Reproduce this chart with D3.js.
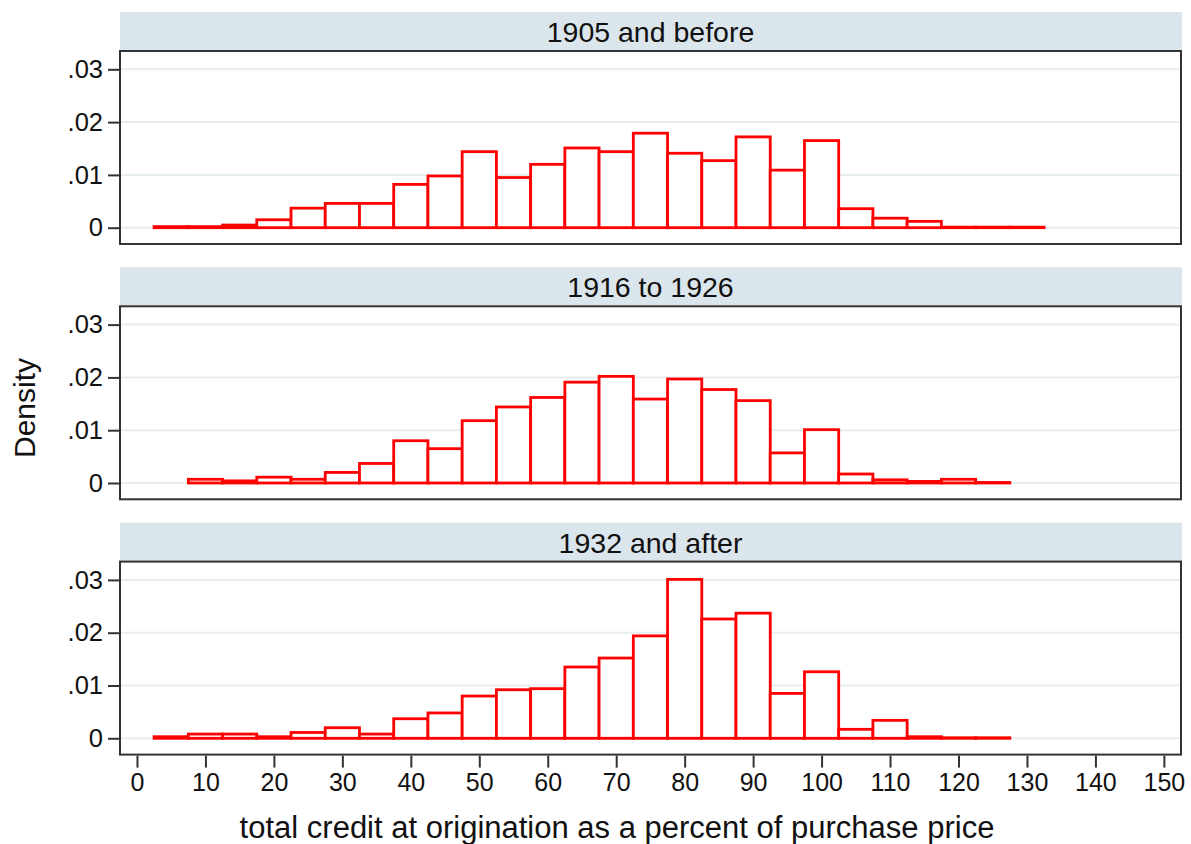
<!DOCTYPE html>
<html>
<head>
<meta charset="utf-8">
<script src="https://cdn.jsdelivr.net/npm/d3@7"></script>
<style>
  body { margin: 0; background: #fff; }
  svg { font-family: "Liberation Sans", Arial, sans-serif; }
</style>
</head>
<body>
<svg id="chart"></svg>
<script>
// bin centres (width 5) and densities per period
const binWidth = 5;
const centers1905 = [5, 10, 15, 20, 25, 30, 35, 40, 45, 50, 55, 60, 65, 70, 75, 80, 85, 90, 95, 100, 105, 110, 115, 120, 125, 130];
const density1905 = [0.0002, 0.0002, 0.0005, 0.0015, 0.0037, 0.0046, 0.0046, 0.0082, 0.0098, 0.0144, 0.0095, 0.0120, 0.0151, 0.0144, 0.0179, 0.0141, 0.0127, 0.0172, 0.0109, 0.0165, 0.0036, 0.0018, 0.0012, 0.0001, 0.0001, 0.0001];

const centers1916 = [10, 15, 20, 25, 30, 35, 40, 45, 50, 55, 60, 65, 70, 75, 80, 85, 90, 95, 100, 105, 110, 115, 120, 125];
const density1916 = [0.0007, 0.0004, 0.0011, 0.0007, 0.0020, 0.0037, 0.0080, 0.0065, 0.0118, 0.0144, 0.0162, 0.0191, 0.0202, 0.0159, 0.0197, 0.0177, 0.0156, 0.0057, 0.0101, 0.0017, 0.0006, 0.0003, 0.0007, 0.0001];

const centers1932 = [5, 10, 15, 20, 25, 30, 35, 40, 45, 50, 55, 60, 65, 70, 75, 80, 85, 90, 95, 100, 105, 110, 115, 120, 125];
const density1932 = [0.0003, 0.0008, 0.0008, 0.0003, 0.0011, 0.0020, 0.0008, 0.0037, 0.0048, 0.0080, 0.0092, 0.0094, 0.0135, 0.0152, 0.0194, 0.0301, 0.0226, 0.0237, 0.0085, 0.0126, 0.0017, 0.0034, 0.0003, 0.0001, 0.0001];

const panelTitles = ["1905 and before", "1916 to 1926", "1932 and after"];
const yTicks = [0, 0.01, 0.02, 0.03];
const yTickLabels = ["0", ".01", ".02", ".03"];
const xTicks = d3.range(0, 151, 10);
const xTitle = "total credit at origination as a percent of purchase price";
const yTitle = "Density";

const panels = [
  { title: panelTitles[0], centers: centers1905, values: density1905 },
  { title: panelTitles[1], centers: centers1916, values: density1916 },
  { title: panelTitles[2], centers: centers1932, values: density1932 }
];

const W = 1191, H = 844;
const plotLeft = 120, plotRight = 1181;
const headerH = 39, boxH = 193, panelStep = 255.3, firstTop = 12;

const svg = d3.select("#chart").attr("width", W).attr("height", H);

const x = d3.scaleLinear()
  .domain([-2.48, 152.5])
  .range([plotLeft, plotRight]);

const y = d3.scaleLinear()
  .domain([-0.00309, 0.03347])
  .range([boxH, 0]);

panels.forEach((p, i) => {
  const top = firstTop + i * panelStep;
  const g = svg.append("g").attr("transform", `translate(0, ${top})`);

  // strip header
  g.append("rect")
    .attr("x", plotLeft).attr("y", 0)
    .attr("width", plotRight - plotLeft + 1).attr("height", headerH)
    .attr("fill", "#dbe5ec");
  g.append("text")
    .attr("x", (plotLeft + plotRight) / 2)
    .attr("y", 30)
    .attr("text-anchor", "middle")
    .attr("font-size", 28.5)
    .attr("fill", "#111")
    .text(p.title);

  const plot = g.append("g").attr("transform", `translate(0, ${headerH})`);

  plot.append("rect")
    .attr("x", plotLeft).attr("y", 0)
    .attr("width", plotRight - plotLeft).attr("height", boxH)
    .attr("fill", "#fff");

  // gridlines
  plot.selectAll(".grid")
    .data(yTicks)
    .join("line")
    .attr("x1", plotLeft).attr("x2", plotRight)
    .attr("y1", (d) => y(d)).attr("y2", (d) => y(d))
    .attr("stroke", "#e6eef0")
    .attr("stroke-width", 2);

  // bars
  plot.selectAll(".bar")
    .data(p.centers.map((c, k) => ({ c, v: p.values[k] })))
    .join("rect")
    .attr("x", (d) => x(d.c - binWidth / 2))
    .attr("width", (d) => x(d.c + binWidth / 2) - x(d.c - binWidth / 2))
    .attr("y", (d) => y(d.v))
    .attr("height", (d) => y(0) - y(d.v))
    .attr("fill", "#fff")
    .attr("stroke", "#ff0000")
    .attr("stroke-width", 2.8);

  // frame
  plot.append("rect")
    .attr("x", plotLeft).attr("y", 0)
    .attr("width", plotRight - plotLeft).attr("height", boxH)
    .attr("fill", "none")
    .attr("stroke", "#333")
    .attr("stroke-width", 2);

  // y axis
  const yAxis = d3.axisLeft(y)
    .tickValues(yTicks)
    .tickFormat((d, k) => yTickLabels[k])
    .tickSize(11)
    .tickPadding(5);
  const ya = plot.append("g")
    .attr("transform", `translate(${plotLeft - 1}, 0)`)
    .call(yAxis);
  ya.select(".domain").remove();
  ya.selectAll("line").attr("stroke", "#333").attr("stroke-width", 2);
  ya.selectAll("text").attr("font-size", 25.5).attr("fill", "#111")
    .attr("font-family", "Liberation Sans, Arial, sans-serif");

  // x axis only on the bottom panel
  if (i === panels.length - 1) {
    const xAxis = d3.axisBottom(x)
      .tickValues(xTicks)
      .tickSize(12)
      .tickPadding(6);
    const xa = plot.append("g")
      .attr("transform", `translate(0, ${boxH + 1})`)
      .call(xAxis);
    xa.select(".domain").remove();
    xa.selectAll("line").attr("stroke", "#333").attr("stroke-width", 2);
    xa.selectAll("text").attr("font-size", 25).attr("fill", "#111")
      .attr("font-family", "Liberation Sans, Arial, sans-serif");
  }
});

svg.append("text")
  .attr("x", 617)
  .attr("y", 838)
  .attr("text-anchor", "middle")
  .attr("font-size", 31)
  .attr("fill", "#111")
  .text(xTitle);

svg.append("text")
  .attr("transform", "translate(35, 408) rotate(-90)")
  .attr("text-anchor", "middle")
  .attr("font-size", 30)
  .attr("fill", "#111")
  .text(yTitle);
</script>
</body>
</html>
